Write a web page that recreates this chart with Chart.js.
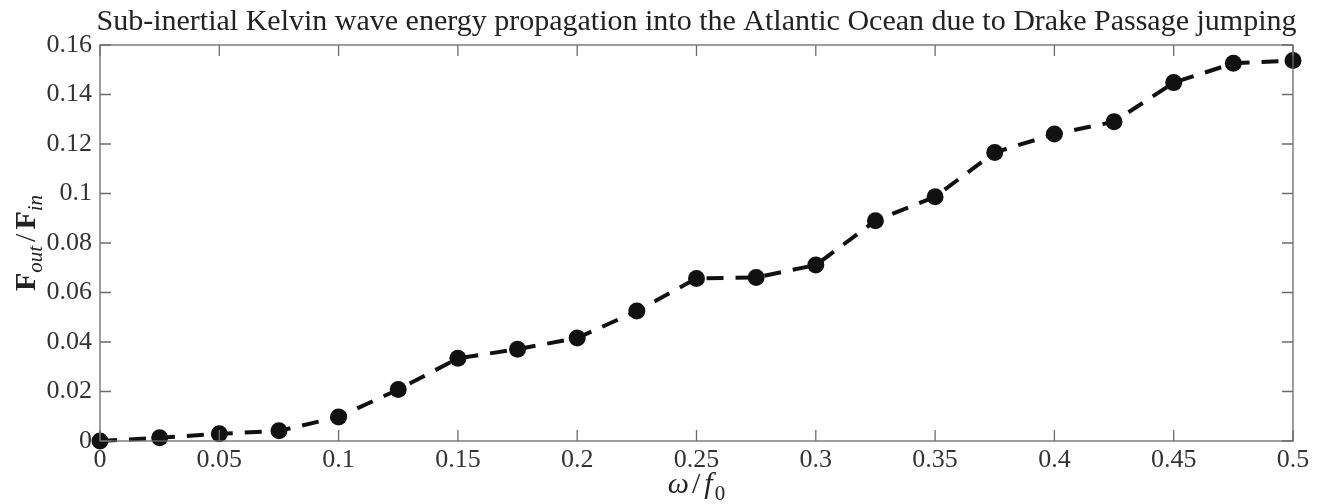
<!DOCTYPE html>
<html lang="en">
<head>
    <meta charset="UTF-8">
    <script src="https://cdn.jsdelivr.net/npm/chart.js"></script>
    <title>Kelvin wave energy</title>
    <style>
    body {
        margin: 0;
        background-color: white;
    }
    #wrap {
        width: 1322px;
        height: 504px;
    }
</style>
</head>
<body>
    <div id="wrap"><canvas id="energyChart" width="1322" height="504"></canvas></div>

    <script>
        // Data
        const omega = [0, 0.025, 0.05, 0.075, 0.1, 0.125, 0.15, 0.175, 0.2, 0.225, 0.25,
                       0.275, 0.3, 0.325, 0.35, 0.375, 0.4, 0.425, 0.45, 0.475, 0.5];
        const fluxRatio = [0, 0.0013, 0.0029, 0.0041, 0.0097, 0.0208, 0.0334, 0.0371, 0.0416, 0.0525, 0.0657,
                           0.0661, 0.0711, 0.089, 0.0987, 0.1166, 0.124, 0.129, 0.1448, 0.1526, 0.1537];
        const titleText = 'Sub-inertial Kelvin wave energy propagation into the Atlantic Ocean due to Drake Passage jumping';

        const serif = '"Liberation Serif", "DejaVu Serif", serif';
        const axisGray = '#6b6b6b';

        // draws a row of text pieces, some of them as subscripts
        function drawRuns(ctx, runs, x, y) {
            let total = 0;
            runs.forEach(r => {
                ctx.font = r.font;
                r.w = ctx.measureText(r.text).width + (r.gap || 0);
                total += r.w;
            });
            let cx = x - total / 2;
            runs.forEach(r => {
                ctx.font = r.font;
                ctx.fillText(r.text, cx, y + (r.sub ? 7 : 0));
                cx += r.w;
            });
        }

        // frame, inward ticks on all four sides, title and axis titles
        const framePlugin = {
            id: 'frame',
            afterDraw(chart) {
                const ctx = chart.ctx;
                const a = chart.chartArea;
                const xs = chart.scales.x;
                const ys = chart.scales.y;
                const tickLen = 11;
                ctx.save();
                ctx.strokeStyle = axisGray;
                ctx.lineWidth = 1.3;
                ctx.strokeRect(a.left, a.top, a.right - a.left, a.bottom - a.top);
                ctx.beginPath();
                xs.ticks.forEach(t => {
                    const px = xs.getPixelForValue(t.value);
                    ctx.moveTo(px, a.bottom);
                    ctx.lineTo(px, a.bottom - tickLen);
                    ctx.moveTo(px, a.top);
                    ctx.lineTo(px, a.top + tickLen);
                });
                ys.ticks.forEach(t => {
                    const py = ys.getPixelForValue(t.value);
                    ctx.moveTo(a.left, py);
                    ctx.lineTo(a.left + tickLen, py);
                    ctx.moveTo(a.right, py);
                    ctx.lineTo(a.right - tickLen, py);
                });
                ctx.stroke();

                ctx.fillStyle = '#222';
                ctx.textAlign = 'center';
                ctx.textBaseline = 'alphabetic';
                ctx.font = '30px ' + serif;
                ctx.fillText(titleText, (a.left + a.right) / 2, a.top - 15);

                ctx.textAlign = 'left';
                drawRuns(ctx, [
                    { text: 'ω', font: 'italic 30px ' + serif, gap: 3 },
                    { text: '/', font: '30px ' + serif, gap: 4 },
                    { text: 'f', font: 'italic 30px ' + serif, gap: 2 },
                    { text: '0', font: '21px ' + serif, sub: true }
                ], (a.left + a.right) / 2, 493);

                ctx.translate(35, (a.top + a.bottom) / 2);
                ctx.rotate(-Math.PI / 2);
                drawRuns(ctx, [
                    { text: 'F', font: 'bold 30px ' + serif },
                    { text: 'out', font: 'italic 21px ' + serif, sub: true, gap: 4 },
                    { text: '/', font: '30px ' + serif, gap: 4 },
                    { text: 'F', font: 'bold 30px ' + serif },
                    { text: 'in', font: 'italic 21px ' + serif, sub: true }
                ], 0, 0);
                ctx.restore();
            }
        };

        const points = omega.map((w, i) => ({ x: w, y: fluxRatio[i] }));

        new Chart(document.getElementById('energyChart'), {
            type: 'line',
            data: {
                datasets: [{
                    data: points,
                    borderColor: '#111',
                    backgroundColor: '#111',
                    borderWidth: 4,
                    borderDash: [17, 12],
                    pointRadius: 8.5,
                    pointBorderWidth: 0,
                    tension: 0,
                    clip: false
                }]
            },
            options: {
                responsive: false,
                animation: false,
                layout: { padding: { top: 45, right: 29, left: 0, bottom: 0 } },
                plugins: {
                    legend: { display: false },
                    tooltip: { enabled: false },
                    title: { display: false }
                },
                scales: {
                    x: {
                        type: 'linear',
                        min: 0,
                        max: 0.5,
                        ticks: {
                            stepSize: 0.05,
                            color: '#333',
                            padding: 4,
                            font: { family: serif, size: 26 },
                            callback: v => String(parseFloat(v.toFixed(3)))
                        },
                        grid: { display: false, drawTicks: false },
                        border: { display: false },
                        afterFit(scale) { scale.height = 63; }
                    },
                    y: {
                        min: 0,
                        max: 0.16,
                        ticks: {
                            stepSize: 0.02,
                            color: '#333',
                            padding: 8,
                            font: { family: serif, size: 26 },
                            callback: v => String(parseFloat(v.toFixed(3)))
                        },
                        grid: { display: false, drawTicks: false },
                        border: { display: false },
                        afterFit(scale) { scale.width = 100; }
                    }
                }
            },
            plugins: [framePlugin]
        });
    </script>
</body>
</html>
